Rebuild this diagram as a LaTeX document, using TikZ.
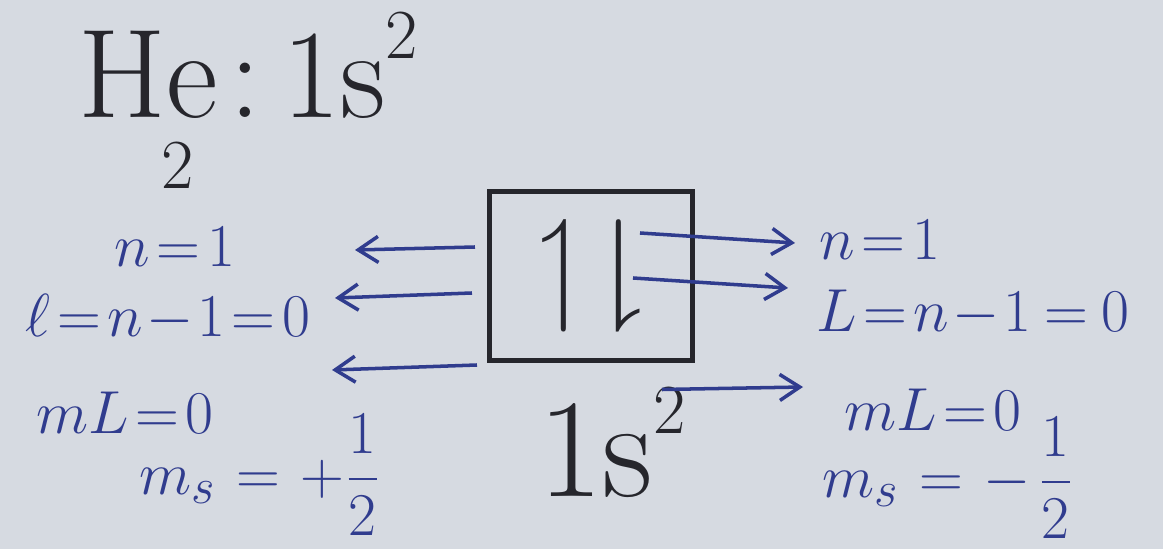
\documentclass[tikz,border=0pt]{standalone}
\usepackage{amssymb}
\usepackage{tikz}
\usetikzlibrary{arrows.meta,positioning,calc}
\definecolor{paper}{RGB}{214,218,225}
\definecolor{inkblue}{RGB}{48,60,142}
\definecolor{inkdark}{RGB}{38,38,44}

\begin{document}
\begin{tikzpicture}[x=0.01cm,y=-0.01cm,>={Straight Barb[length=2mm,width=2.6mm]},
  ttl/.style={text=inkdark,inner sep=0pt,font=\fontsize{36}{40}\selectfont},
  lbl/.style={text=inkblue,inner sep=0pt,font=\fontsize{19}{22}\selectfont},
  orb/.style={draw=inkdark,line width=1.4pt,minimum width=2.03cm,minimum height=1.68cm,inner sep=0pt,font=\fontsize{36}{40}\selectfont,text=inkdark},
  pt/.style={->,draw=inkblue,line width=1pt}]
\fill[paper] (0,0) rectangle (1163,549);
\useasboundingbox (0,0) rectangle (1163,549);
\thickmuskip=2mu \medmuskip=1mu
% title
\node[ttl,anchor=base] (he) at (148,118) {He};
\node[ttl,font=\fontsize{20}{22}\selectfont] (z) at (178,165) {2};
\node[ttl,anchor=base west] (cfg) at ([xshift=3pt]he.base east) {:\,1s\raisebox{17pt}{\fontsize{20}{22}\selectfont 2}};
% orbital box
\node[orb] (box) at (591,276) {$\upharpoonleft\mkern0.5mu\downharpoonright$\hspace{0.5cm}};
\node[ttl,anchor=base,font=\fontsize{40}{44}\selectfont] (sub) at (612,497) {1s\raisebox{18pt}{\fontsize{20}{22}\selectfont 2}};
% quantum numbers, left electron
\node[lbl] (nl) at (175,247) {$n = 1$};
\node[lbl] (ll) at (168,318) {$\ell = n-1=0$};
\node[lbl] (ml) at (125,413) {$mL = 0$};
\node[lbl] (sl) at (260,475) {$m_s\;\;=\;\;+\displaystyle\frac{1}{2}$};
% quantum numbers, right electron
\node[lbl] (nr) at (880,240) {$n=1$};
\node[lbl] (lr) at (973,313) {$L=n-1\;=\;0$};
\node[lbl] (mr) at (933,410) {$mL = 0$};
\node[lbl] (sr) at (948,478) {$m_s\;\;=\;\;-\;\displaystyle\frac{1}{2}$};
% arrow ends
\coordinate (hl1) at (355,250);
\coordinate (hl2) at (335,298);
\coordinate (hl3) at (332,370);
\coordinate (hr1) at (795,243);
\coordinate (hr2) at (788,288);
\coordinate (hr3) at (803,387);
\draw[pt] ($(box.west)+(-12,-29)$) -- (hl1);
\draw[pt] ($(box.west)+(-15,17)$) -- (hl2);
\draw[pt] ($(box.west)+(-10,89)$) -- (hl3);
\draw[pt] ($(box.center)+(49,-43)$) -- (hr1);
\draw[pt] ($(box.center)+(42,2)$) -- (hr2);
\draw[pt] ($(box.south)+(71,27)$) -- (hr3);
\end{tikzpicture}
\end{document}
